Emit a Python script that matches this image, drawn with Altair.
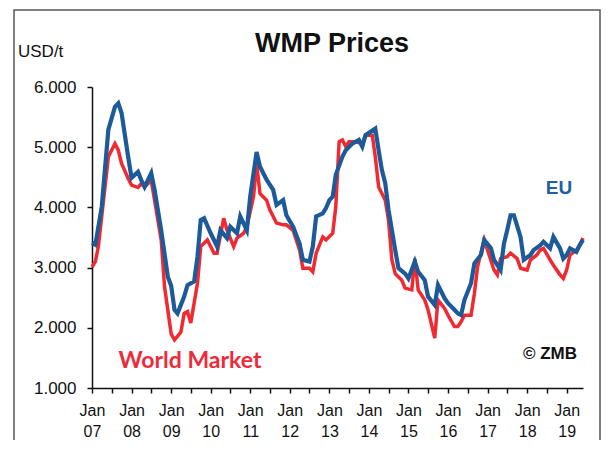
import altair as alt
import pandas as pd

# ---- data (monthly, USD/t) ----
eu_months = ["2007-01", "2007-02", "2007-04", "2007-06", "2007-08", "2007-09", "2007-10", "2007-12",
             "2008-01", "2008-03", "2008-04", "2008-05", "2008-07", "2008-08", "2008-10", "2008-12",
             "2009-01", "2009-02", "2009-03", "2009-05", "2009-06", "2009-08", "2009-09", "2009-10", "2009-11",
             "2010-01", "2010-03", "2010-04", "2010-06", "2010-07", "2010-09", "2010-10", "2010-12",
             "2011-01", "2011-03", "2011-04", "2011-06", "2011-08", "2011-09", "2011-11", "2011-12",
             "2012-02", "2012-04", "2012-05", "2012-07", "2012-08", "2012-09", "2012-11", "2012-12",
             "2013-01", "2013-02", "2013-03", "2013-05", "2013-06", "2013-08", "2013-10", "2013-11", "2013-12",
             "2014-03", "2014-04", "2014-05", "2014-06", "2014-07", "2014-09", "2014-10", "2014-12",
             "2015-01", "2015-03", "2015-04", "2015-06", "2015-07", "2015-09", "2015-10", "2015-12",
             "2016-01", "2016-03", "2016-04", "2016-05", "2016-06", "2016-08", "2016-09", "2016-11", "2016-12",
             "2017-02", "2017-03", "2017-05", "2017-06", "2017-07", "2017-08", "2017-09", "2017-11", "2017-12",
             "2018-02", "2018-03", "2018-05", "2018-06", "2018-08", "2018-09", "2018-11", "2018-12",
             "2019-01", "2019-02", "2019-04", "2019-05", "2019-06"]
eu_values = [3410, 3380, 4010, 5290, 5670, 5730, 5570, 4840,
             4490, 4590, 4450, 4340, 4570, 4290, 3620, 2850,
             2700, 2300, 2240, 2520, 2710, 2770, 3180, 3790, 3820,
             3570, 3350, 3620, 3490, 3680, 3570, 3850, 3620,
             4180, 4920, 4680, 4460, 4290, 4040, 4120, 3870,
             3680, 3400, 3130, 3100, 3350, 3850, 3900, 3990,
             4120, 4180, 4540, 4840, 4950, 5060, 5120, 5010, 5200,
             5310, 4950, 4620, 4400, 3960, 3290, 2990, 2900,
             2820, 3100, 2930, 2790, 2520, 2380, 2710, 2490,
             2410, 2300, 2240, 2210, 2460, 2740, 3070, 3210, 3460,
             3320, 3130, 2960, 3400, 3620, 3870, 3870, 3510, 3130,
             3210, 3290, 3370, 3430, 3320, 3510, 3320, 3150,
             3210, 3320, 3260, 3370, 3460]

wm_months = ["2007-01", "2007-02", "2007-03", "2007-06", "2007-08", "2007-09", "2007-10", "2007-12",
             "2008-01", "2008-03", "2008-04", "2008-05", "2008-07", "2008-10", "2008-11",
             "2009-01", "2009-02", "2009-04", "2009-05", "2009-06", "2009-07", "2009-09", "2009-10", "2009-12",
             "2010-02", "2010-03", "2010-05", "2010-06", "2010-08", "2010-09", "2010-11", "2010-12",
             "2011-02", "2011-03", "2011-04", "2011-06", "2011-07", "2011-09", "2011-11", "2011-12",
             "2012-02", "2012-04", "2012-05", "2012-07", "2012-08", "2012-09", "2012-11", "2012-12",
             "2013-02", "2013-03", "2013-04", "2013-05", "2013-06", "2013-07", "2013-09", "2013-11", "2013-12",
             "2014-02", "2014-03", "2014-04", "2014-06", "2014-07", "2014-08", "2014-09", "2014-11", "2014-12",
             "2015-02", "2015-03", "2015-04", "2015-06", "2015-07", "2015-09", "2015-10", "2015-12",
             "2016-01", "2016-03", "2016-04", "2016-05", "2016-06", "2016-08", "2016-09", "2016-10", "2016-12",
             "2017-01", "2017-03", "2017-04", "2017-05", "2017-07", "2017-08", "2017-10", "2017-11",
             "2018-01", "2018-02", "2018-04", "2018-05", "2018-06", "2018-08", "2018-09", "2018-11", "2018-12",
             "2019-01", "2019-02", "2019-04", "2019-05", "2019-06"]
wm_values = [3010, 3100, 3350, 4840, 5060, 4950, 4730, 4480,
             4370, 4330, 4400, 4340, 4450, 3460, 2680,
             1900, 1800, 1930, 2240, 2270, 2080, 2740, 3350, 3460,
             3240, 3240, 3820, 3620, 3350, 3490, 3570, 3680,
             4180, 4730, 4230, 4120, 3960, 3740, 3710, 3710,
             3620, 3290, 2990, 2990, 2930, 3240, 3510, 3460,
             3570, 4010, 5090, 5120, 5010, 5090, 5090, 5060, 5200,
             5200, 4840, 4340, 4120, 3790, 3130, 2900, 2790, 2660,
             2630, 3150, 2630, 2460, 2300, 1830, 2460, 2320,
             2210, 2020, 2020, 2100, 2210, 2210, 2570, 3020, 3460,
             3290, 2960, 2880, 3150, 3180, 3240, 3150, 2990,
             2960, 3130, 3210, 3290, 3320, 3130, 3040, 2880, 2820,
             2960, 3210, 3290, 3370, 3490]

tick_months = ["2007-01", "2007-07", "2008-01", "2008-07", "2009-01", "2009-07", "2010-01", "2010-07",
               "2011-01", "2011-07", "2012-01", "2012-07", "2013-01", "2013-07", "2014-01", "2014-07",
               "2015-01", "2015-07", "2016-01", "2016-07", "2017-01", "2017-07", "2018-01", "2018-07",
               "2019-01"]
y_ticks = [1000, 2000, 3000, 4000, 5000, 6000]

title_text = ["WMP Prices"]
unit_text = ["USD/t"]
eu_label = ["EU"]
wm_label = ["World Market"]
source_label = ["© ZMB"]

BLUE = "#1d5a9a"
RED = "#f02a30"

eu = pd.DataFrame({"date": [m + "-01" for m in eu_months], "value": eu_values})
wm = pd.DataFrame({"date": [m + "-01" for m in wm_months], "value": wm_values})


def dt(s):
    y, m = s.split("-")
    return alt.DateTime(year=int(y), month=int(m), date=1, utc=True)


x_enc = alt.X(
    "date:T",
    scale=alt.Scale(type="utc", domain=[dt("2007-01"), dt("2019-06")]),
    axis=alt.Axis(
        values=[dt(m) for m in tick_months],
        labelExpr="utcmonth(datum.value) == 0 ? ['Jan', utcFormat(datum.value, '%y')] : ''",
        title=None,
        tickSize=5,
        labelPadding=9,
        labelLineHeight=21,
        labelFontSize=16,
        labelAlign="center",
    ),
)
y_enc = alt.Y(
    "value:Q",
    scale=alt.Scale(domain=[1000, 6000], nice=False),
    axis=alt.Axis(
        values=y_ticks,
        labelExpr="replace(format(datum.value, ','), ',', '.')",
        title=None,
        tickSize=5,
        labelPadding=11,
        labelFontSize=17,
    ),
)

wm_line = alt.Chart(wm).mark_line(color=RED, strokeWidth=3.5).encode(x=x_enc, y=y_enc)
eu_line = alt.Chart(eu).mark_line(color=BLUE, strokeWidth=4.2).encode(x=x_enc, y=y_enc)


def label(texts, x, y, **kw):
    return alt.Chart(pd.DataFrame({"t": texts})).mark_text(**kw).encode(
        text="t:N", x=alt.value(x), y=alt.value(y)
    )


frame = alt.Chart(pd.DataFrame({"a": [0]})).mark_rect(
    filled=False, stroke="#555555", strokeWidth=1.5
).encode(x=alt.value(-78), x2=alt.value(508), y=alt.value(-77), y2=alt.value(420))

title = label(title_text, 240, -43, font="Liberation Sans", fontSize=27, fontWeight="bold",
              color="#111111", align="center", baseline="middle")
unit = label(unit_text, -74, -35, font="Liberation Sans", fontSize=17, color="#111111",
             align="left", baseline="middle")
eu_txt = label(eu_label, 467, 101, font="Liberation Sans", fontSize=19, fontWeight="bold",
               color="#1f5fa5", align="center", baseline="middle")
wm_txt = label(wm_label, 98, 274, font="Lato", fontSize=23, fontWeight="bold",
               color="#ee2a3a", align="center", baseline="middle")
src_txt = label(source_label, 458, 267, font="Liberation Sans", fontSize=17, fontWeight="bold",
                color="#111111", align="center", baseline="middle")

chart = alt.layer(frame, wm_line, eu_line, title, unit, eu_txt, wm_txt, src_txt).properties(
    width=491,
    height=301,
    autosize=alt.AutoSizeParams(type="none"),
    padding={"left": 84, "top": 79, "right": 18, "bottom": 52},
    background="white",
).configure_view(stroke=None).configure_axis(
    grid=False,
    domainColor="#111111",
    domainWidth=1.5,
    tickColor="#111111",
    tickWidth=1.5,
    labelColor="#111111",
    labelFont="Liberation Sans",
)

chart.save("out.html", embed_options={"renderer": "svg", "actions": False})
